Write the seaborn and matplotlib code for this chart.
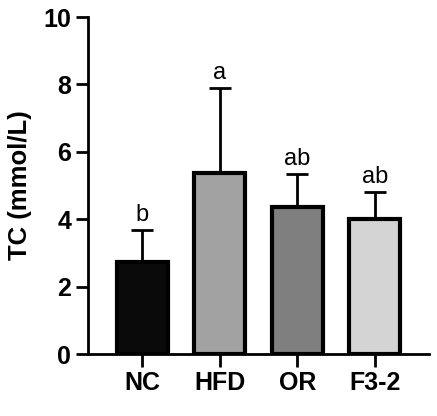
import numpy as np
import pandas as pd
import seaborn as sns
import matplotlib.pyplot as plt

# 그룹별 평균과 표준편차
groups = ['NC', 'HFD', 'OR', 'F3-2']
means = [2.73, 5.38, 4.36, 4.02]
sds = [0.95, 2.52, 0.98, 0.80]
letters = ['b', 'a', 'ab', 'ab']
colors = ['#0a0a0a', '#a2a2a2', '#7f7f7f', '#d4d4d4']

sns.set_style('ticks')
plt.rcParams['font.family'] = ['Liberation Sans', 'DejaVu Sans']
plt.rcParams['text.color'] = 'black'
plt.rcParams['axes.labelcolor'] = 'black'
plt.rcParams['xtick.color'] = 'black'
plt.rcParams['ytick.color'] = 'black'
plt.rcParams['axes.edgecolor'] = 'black'

df = pd.DataFrame({'group': groups, 'TC': means})

fig = plt.figure(figsize=(4.37, 4.16), dpi=100)
ax = fig.add_axes([0.201, 0.149, 0.781, 0.81])

sns.barplot(data=df, x='group', y='TC', hue='group', palette=colors,
            width=0.66, edgecolor='black', linewidth=3, legend=False, ax=ax)

# 위쪽으로만 표준편차 표시
xpos = np.arange(len(groups))
ax.errorbar(xpos, means, yerr=[np.zeros(len(sds)), sds], fmt='none',
            ecolor='black', elinewidth=2, capsize=8, capthick=2, zorder=1)

for x, m, s, lab in zip(xpos, means, sds, letters):
    ax.text(x, m + s + 0.12, lab, ha='center', va='bottom', fontsize=17)

ax.set_ylim(0, 10)
ax.set_xlim(-0.7, 3.7)
ax.set_yticks([0, 2, 4, 6, 8, 10])
ax.set_xlabel('')
ax.set_ylabel('TC (mmol/L)', fontsize=18.5, fontweight='bold', labelpad=8)
ax.tick_params(axis='both', width=2, length=9, labelsize=18, pad=3)
for lab in ax.get_xticklabels() + ax.get_yticklabels():
    lab.set_fontweight('bold')
for side in ['left', 'bottom']:
    ax.spines[side].set_linewidth(2)
sns.despine(ax=ax)

fig.savefig('out.png', dpi=100)
